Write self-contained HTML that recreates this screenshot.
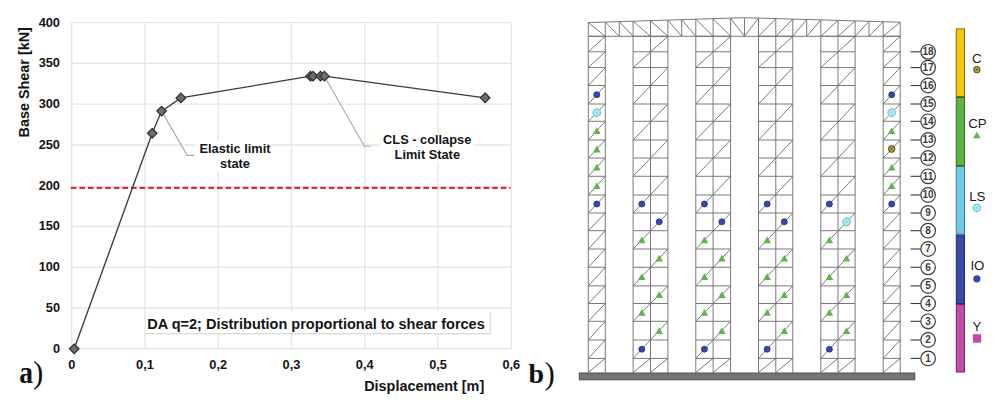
<!DOCTYPE html>
<html><head><meta charset="utf-8"><style>
html,body{margin:0;padding:0;background:#fff;width:1000px;height:410px;overflow:hidden}
svg{display:block}
text{font-family:"Liberation Sans",sans-serif;fill:#141414}
.tk{font-size:12.8px;font-weight:bold}
.ttl{font-size:14.4px;font-weight:bold}
.ann{font-size:12.8px;font-weight:bold}
.box{font-size:14.5px;font-weight:bold}
.lab{font-family:"Liberation Serif",serif;font-size:28px;fill:#111}
.num{font-size:10px;font-weight:bold;fill:#3a3a3a}
.leg{font-size:13.3px;fill:#1a1a1a}
</style></head><body>
<svg width="1000" height="410" viewBox="0 0 1000 410">
<line x1="71.70" y1="22.60" x2="71.70" y2="348.80" stroke="#e6e6e6" stroke-width="1.4"/>
<line x1="144.97" y1="22.60" x2="144.97" y2="348.80" stroke="#e6e6e6" stroke-width="1.4"/>
<line x1="218.23" y1="22.60" x2="218.23" y2="348.80" stroke="#e6e6e6" stroke-width="1.4"/>
<line x1="291.50" y1="22.60" x2="291.50" y2="348.80" stroke="#e6e6e6" stroke-width="1.4"/>
<line x1="364.77" y1="22.60" x2="364.77" y2="348.80" stroke="#e6e6e6" stroke-width="1.4"/>
<line x1="438.03" y1="22.60" x2="438.03" y2="348.80" stroke="#e6e6e6" stroke-width="1.4"/>
<line x1="511.30" y1="22.60" x2="511.30" y2="348.80" stroke="#e6e6e6" stroke-width="1.4"/>
<line x1="71.70" y1="348.80" x2="511.30" y2="348.80" stroke="#e6e6e6" stroke-width="1.4"/>
<line x1="71.70" y1="308.03" x2="511.30" y2="308.03" stroke="#e6e6e6" stroke-width="1.4"/>
<line x1="71.70" y1="267.25" x2="511.30" y2="267.25" stroke="#e6e6e6" stroke-width="1.4"/>
<line x1="71.70" y1="226.48" x2="511.30" y2="226.48" stroke="#e6e6e6" stroke-width="1.4"/>
<line x1="71.70" y1="187.30" x2="511.30" y2="187.30" stroke="#e6e6e6" stroke-width="1.4"/>
<line x1="71.70" y1="144.93" x2="511.30" y2="144.93" stroke="#e6e6e6" stroke-width="1.4"/>
<line x1="71.70" y1="104.15" x2="511.30" y2="104.15" stroke="#e6e6e6" stroke-width="1.4"/>
<line x1="71.70" y1="63.38" x2="511.30" y2="63.38" stroke="#e6e6e6" stroke-width="1.4"/>
<line x1="71.70" y1="22.60" x2="511.30" y2="22.60" stroke="#e6e6e6" stroke-width="1.4"/>
<text x="60" y="352.80" text-anchor="end" class="tk">0</text>
<text x="60" y="312.03" text-anchor="end" class="tk">50</text>
<text x="60" y="271.25" text-anchor="end" class="tk">100</text>
<text x="60" y="230.48" text-anchor="end" class="tk">150</text>
<text x="60" y="189.70" text-anchor="end" class="tk">200</text>
<text x="60" y="148.93" text-anchor="end" class="tk">250</text>
<text x="60" y="108.15" text-anchor="end" class="tk">300</text>
<text x="60" y="67.38" text-anchor="end" class="tk">350</text>
<text x="60" y="26.60" text-anchor="end" class="tk">400</text>
<text x="71.70" y="368.8" text-anchor="middle" class="tk">0</text>
<text x="144.97" y="368.8" text-anchor="middle" class="tk">0,1</text>
<text x="218.23" y="368.8" text-anchor="middle" class="tk">0,2</text>
<text x="291.50" y="368.8" text-anchor="middle" class="tk">0,3</text>
<text x="364.77" y="368.8" text-anchor="middle" class="tk">0,4</text>
<text x="438.03" y="368.8" text-anchor="middle" class="tk">0,5</text>
<text x="511.30" y="368.8" text-anchor="middle" class="tk">0,6</text>
<text x="424.2" y="391" text-anchor="middle" class="ttl">Displacement [m]</text>
<text transform="translate(28.8,82.3) rotate(-90)" x="0" y="0" text-anchor="middle" class="ttl">Base Shear [kN]</text>
<line x1="70.8" y1="187.9" x2="510.6" y2="187.9" stroke="#de2a33" stroke-width="2.3" stroke-dasharray="5.6 3"/>
<polyline points="161.6,111.1 187.2,155.4 194,155.4" fill="none" stroke="#a8a8a8" stroke-width="1.1"/>
<polyline points="324.4,76.2 364.4,146.3 371.1,146.3" fill="none" stroke="#a8a8a8" stroke-width="1.1"/>
<polyline points="74.2,348.8 152.2,133.3 161.6,111.1 180.9,97.9 310.5,76.2 313,76.2 320.5,76.2 324.4,76.2 485.1,97.8" fill="none" stroke="#3a3a3a" stroke-width="1.35"/>
<path d="M74.20 344.00 L79.00 348.80 L74.20 353.60 L69.40 348.80 Z" fill="#6c6c6c" stroke="#2c2c2c" stroke-width="1.2"/>
<path d="M152.20 128.50 L157.00 133.30 L152.20 138.10 L147.40 133.30 Z" fill="#6c6c6c" stroke="#2c2c2c" stroke-width="1.2"/>
<path d="M161.60 106.30 L166.40 111.10 L161.60 115.90 L156.80 111.10 Z" fill="#6c6c6c" stroke="#2c2c2c" stroke-width="1.2"/>
<path d="M180.90 93.10 L185.70 97.90 L180.90 102.70 L176.10 97.90 Z" fill="#6c6c6c" stroke="#2c2c2c" stroke-width="1.2"/>
<path d="M310.50 71.40 L315.30 76.20 L310.50 81.00 L305.70 76.20 Z" fill="#6c6c6c" stroke="#2c2c2c" stroke-width="1.2"/>
<path d="M313.00 71.40 L317.80 76.20 L313.00 81.00 L308.20 76.20 Z" fill="#6c6c6c" stroke="#2c2c2c" stroke-width="1.2"/>
<path d="M320.50 71.40 L325.30 76.20 L320.50 81.00 L315.70 76.20 Z" fill="#6c6c6c" stroke="#2c2c2c" stroke-width="1.2"/>
<path d="M324.40 71.40 L329.20 76.20 L324.40 81.00 L319.60 76.20 Z" fill="#6c6c6c" stroke="#2c2c2c" stroke-width="1.2"/>
<path d="M485.10 93.00 L489.90 97.80 L485.10 102.60 L480.30 97.80 Z" fill="#6c6c6c" stroke="#2c2c2c" stroke-width="1.2"/>
<rect x="195.5" y="140.8" width="75.5" height="30.5" fill="#fff"/>
<rect x="379.5" y="132.6" width="93.5" height="28.6" fill="#fff"/>
<text x="235" y="152.8" text-anchor="middle" class="ann">Elastic limit</text>
<text x="235" y="167.9" text-anchor="middle" class="ann">state</text>
<text x="427.2" y="144.1" text-anchor="middle" class="ann">CLS - collapse</text>
<text x="427.3" y="158.8" text-anchor="middle" class="ann">Limit State</text>
<rect x="146" y="312" width="344.8" height="22.3" fill="#d6d6d6"/>
<rect x="146" y="311.5" width="343.6" height="21.6" fill="#ffffff"/>
<text x="147.3" y="329" class="box">DA q=2; Distribution proportional to shear forces</text>
<text transform="translate(19.2,382.8) scale(0.86,1)" class="lab" style="font-size:32px" font-weight="bold">a</text>
<text x="33.1" y="383.2" class="lab" style="font-size:31px">)</text>
<text x="528.6" y="383" class="lab" font-weight="bold">b</text>
<text x="544.6" y="383.6" class="lab" style="font-size:31px">)</text>
<path d="M588.30 372.50L588.30 36.30M605.30 372.50L605.30 36.30M588.30 358.40L605.30 358.40M588.30 340.00L605.30 340.00M588.30 321.30L605.30 321.30M588.30 303.50L605.30 303.50M588.30 285.90L605.30 285.90M588.30 267.30L605.30 267.30M588.30 249.00L605.30 249.00M588.30 230.70L605.30 230.70M588.30 213.00L605.30 213.00M588.30 195.00L605.30 195.00M588.30 176.30L605.30 176.30M588.30 158.00L605.30 158.00M588.30 140.00L605.30 140.00M588.30 121.30L605.30 121.30M588.30 104.00L605.30 104.00M588.30 85.50L605.30 85.50M588.30 67.60L605.30 67.60M588.30 51.80L605.30 51.80M588.30 36.30L605.30 36.30M588.30 372.50L605.30 358.40M588.30 358.40L605.30 340.00M588.30 340.00L605.30 321.30M588.30 321.30L605.30 303.50M588.30 303.50L605.30 285.90M588.30 285.90L605.30 267.30M588.30 267.30L605.30 249.00M588.30 249.00L605.30 230.70M588.30 230.70L605.30 213.00M588.30 213.00L605.30 195.00M588.30 195.00L605.30 176.30M588.30 176.30L605.30 158.00M588.30 158.00L605.30 140.00M588.30 140.00L605.30 121.30M588.30 121.30L605.30 104.00M588.30 104.00L605.30 85.50M588.30 85.50L605.30 67.60M588.30 67.60L605.30 51.80M588.30 51.80L605.30 36.30M633.10 372.50L633.10 36.30M650.50 372.50L650.50 36.30M667.90 372.50L667.90 36.30M633.10 358.40L667.90 358.40M633.10 340.00L667.90 340.00M633.10 321.30L667.90 321.30M633.10 303.50L667.90 303.50M633.10 285.90L667.90 285.90M633.10 267.30L667.90 267.30M633.10 249.00L667.90 249.00M633.10 230.70L667.90 230.70M633.10 213.00L667.90 213.00M633.10 195.00L667.90 195.00M633.10 176.30L667.90 176.30M633.10 158.00L667.90 158.00M633.10 140.00L667.90 140.00M633.10 121.30L667.90 121.30M633.10 104.00L667.90 104.00M633.10 85.50L667.90 85.50M633.10 67.60L667.90 67.60M633.10 51.80L667.90 51.80M633.10 36.30L667.90 36.30M633.10 372.50L650.50 358.40M650.50 372.50L667.90 358.40M633.10 358.40L667.90 321.30M633.10 321.30L667.90 285.90M633.10 285.90L667.90 249.00M633.10 249.00L667.90 213.00M633.10 213.00L667.90 176.30M633.10 176.30L667.90 140.00M633.10 140.00L667.90 104.00M633.10 104.00L667.90 67.60M633.10 67.60L667.90 36.30M695.80 372.50L695.80 36.30M713.10 372.50L713.10 36.30M730.60 372.50L730.60 36.30M695.80 358.40L730.60 358.40M695.80 340.00L730.60 340.00M695.80 321.30L730.60 321.30M695.80 303.50L730.60 303.50M695.80 285.90L730.60 285.90M695.80 267.30L730.60 267.30M695.80 249.00L730.60 249.00M695.80 230.70L730.60 230.70M695.80 213.00L730.60 213.00M695.80 195.00L730.60 195.00M695.80 176.30L730.60 176.30M695.80 158.00L730.60 158.00M695.80 140.00L730.60 140.00M695.80 121.30L730.60 121.30M695.80 104.00L730.60 104.00M695.80 85.50L730.60 85.50M695.80 67.60L730.60 67.60M695.80 51.80L730.60 51.80M695.80 36.30L730.60 36.30M695.80 372.50L713.10 358.40M713.10 372.50L730.60 358.40M695.80 358.40L730.60 321.30M695.80 321.30L730.60 285.90M695.80 285.90L730.60 249.00M695.80 249.00L730.60 213.00M695.80 213.00L730.60 176.30M695.80 176.30L730.60 140.00M695.80 140.00L730.60 104.00M695.80 104.00L730.60 67.60M695.80 67.60L730.60 36.30M758.50 372.50L758.50 36.30M775.80 372.50L775.80 36.30M792.80 372.50L792.80 36.30M758.50 358.40L792.80 358.40M758.50 340.00L792.80 340.00M758.50 321.30L792.80 321.30M758.50 303.50L792.80 303.50M758.50 285.90L792.80 285.90M758.50 267.30L792.80 267.30M758.50 249.00L792.80 249.00M758.50 230.70L792.80 230.70M758.50 213.00L792.80 213.00M758.50 195.00L792.80 195.00M758.50 176.30L792.80 176.30M758.50 158.00L792.80 158.00M758.50 140.00L792.80 140.00M758.50 121.30L792.80 121.30M758.50 104.00L792.80 104.00M758.50 85.50L792.80 85.50M758.50 67.60L792.80 67.60M758.50 51.80L792.80 51.80M758.50 36.30L792.80 36.30M758.50 372.50L775.80 358.40M775.80 372.50L792.80 358.40M758.50 358.40L792.80 321.30M758.50 321.30L792.80 285.90M758.50 285.90L792.80 249.00M758.50 249.00L792.80 213.00M758.50 213.00L792.80 176.30M758.50 176.30L792.80 140.00M758.50 140.00L792.80 104.00M758.50 104.00L792.80 67.60M758.50 67.60L792.80 36.30M820.80 372.50L820.80 36.30M838.00 372.50L838.00 36.30M855.10 372.50L855.10 36.30M820.80 358.40L855.10 358.40M820.80 340.00L855.10 340.00M820.80 321.30L855.10 321.30M820.80 303.50L855.10 303.50M820.80 285.90L855.10 285.90M820.80 267.30L855.10 267.30M820.80 249.00L855.10 249.00M820.80 230.70L855.10 230.70M820.80 213.00L855.10 213.00M820.80 195.00L855.10 195.00M820.80 176.30L855.10 176.30M820.80 158.00L855.10 158.00M820.80 140.00L855.10 140.00M820.80 121.30L855.10 121.30M820.80 104.00L855.10 104.00M820.80 85.50L855.10 85.50M820.80 67.60L855.10 67.60M820.80 51.80L855.10 51.80M820.80 36.30L855.10 36.30M820.80 372.50L838.00 358.40M838.00 372.50L855.10 358.40M820.80 358.40L855.10 321.30M820.80 321.30L855.10 285.90M820.80 285.90L855.10 249.00M820.80 249.00L855.10 213.00M820.80 213.00L855.10 176.30M820.80 176.30L855.10 140.00M820.80 140.00L855.10 104.00M820.80 104.00L855.10 67.60M820.80 67.60L855.10 36.30M883.20 372.50L883.20 36.30M900.20 372.50L900.20 36.30M883.20 358.40L900.20 358.40M883.20 340.00L900.20 340.00M883.20 321.30L900.20 321.30M883.20 303.50L900.20 303.50M883.20 285.90L900.20 285.90M883.20 267.30L900.20 267.30M883.20 249.00L900.20 249.00M883.20 230.70L900.20 230.70M883.20 213.00L900.20 213.00M883.20 195.00L900.20 195.00M883.20 176.30L900.20 176.30M883.20 158.00L900.20 158.00M883.20 140.00L900.20 140.00M883.20 121.30L900.20 121.30M883.20 104.00L900.20 104.00M883.20 85.50L900.20 85.50M883.20 67.60L900.20 67.60M883.20 51.80L900.20 51.80M883.20 36.30L900.20 36.30M883.20 372.50L900.20 358.40M883.20 358.40L900.20 340.00M883.20 340.00L900.20 321.30M883.20 321.30L900.20 303.50M883.20 303.50L900.20 285.90M883.20 285.90L900.20 267.30M883.20 267.30L900.20 249.00M883.20 249.00L900.20 230.70M883.20 230.70L900.20 213.00M883.20 213.00L900.20 195.00M883.20 195.00L900.20 176.30M883.20 176.30L900.20 158.00M883.20 158.00L900.20 140.00M883.20 140.00L900.20 121.30M883.20 121.30L900.20 104.00M883.20 104.00L900.20 85.50M883.20 85.50L900.20 67.60M883.20 67.60L900.20 51.80M883.20 51.80L900.20 36.30M588.30 22.60L744.50 17.70M744.50 17.70L900.20 22.20M588.30 36.30L900.20 36.30M588.30 22.60L588.30 36.30M605.30 22.07L605.30 36.30M619.30 21.63L619.30 36.30M633.10 21.19L633.10 36.30M650.50 20.65L650.50 36.30M667.90 20.10L667.90 36.30M681.70 19.67L681.70 36.30M695.80 19.23L695.80 36.30M713.10 18.69L713.10 36.30M730.60 18.14L730.60 36.30M744.50 17.70L744.50 36.30M758.50 18.10L758.50 36.30M775.80 18.60L775.80 36.30M792.80 19.10L792.80 36.30M806.70 19.50L806.70 36.30M820.80 19.91L820.80 36.30M838.00 20.40L838.00 36.30M855.10 20.90L855.10 36.30M869.00 21.30L869.00 36.30M883.20 21.71L883.20 36.30M900.20 22.20L900.20 36.30M588.30 22.60L605.30 36.30M605.30 22.07L619.30 36.30M619.30 21.63L633.10 36.30M633.10 21.19L650.50 36.30M650.50 20.65L667.90 36.30M667.90 20.10L681.70 36.30M681.70 19.67L695.80 36.30M695.80 19.23L713.10 36.30M713.10 18.69L730.60 36.30M730.60 18.14L744.50 36.30M744.50 36.30L758.50 18.10M758.50 36.30L775.80 18.60M775.80 36.30L792.80 19.10M792.80 36.30L806.70 19.50M806.70 36.30L820.80 19.91M820.80 36.30L838.00 20.40M838.00 36.30L855.10 20.90M855.10 36.30L869.00 21.30M869.00 36.30L883.20 21.71M883.20 36.30L900.20 22.20" fill="none" stroke="#727272" stroke-width="0.95"/>
<rect x="579.3" y="373" width="335.5" height="6.8" fill="#747478" stroke="#505054" stroke-width="1"/>
<circle cx="596.80" cy="94.75" r="3.0" fill="#3648ae" stroke="#22307f" stroke-width="0.8"/>
<path d="M596.80 107.35L602.10 112.65L596.80 117.95L591.50 112.65Z" fill="#c6eef3"/>
<circle cx="596.80" cy="112.65" r="3.7" fill="#b5e6ee" stroke="#74cddc" stroke-width="1.2"/>
<circle cx="596.80" cy="112.65" r="1.2" fill="#8fd8e4"/>
<path d="M596.80 127.25L600.60 134.05L593.00 134.05Z" fill="#5cb648"/>
<path d="M596.80 145.60L600.60 152.40L593.00 152.40Z" fill="#5cb648"/>
<path d="M596.80 163.75L600.60 170.55L593.00 170.55Z" fill="#5cb648"/>
<path d="M596.80 182.25L600.60 189.05L593.00 189.05Z" fill="#5cb648"/>
<circle cx="596.80" cy="204.00" r="3.0" fill="#3648ae" stroke="#22307f" stroke-width="0.8"/>
<circle cx="891.70" cy="94.75" r="3.0" fill="#3648ae" stroke="#22307f" stroke-width="0.8"/>
<path d="M891.70 107.35L897.00 112.65L891.70 117.95L886.40 112.65Z" fill="#c6eef3"/>
<circle cx="891.70" cy="112.65" r="3.7" fill="#b5e6ee" stroke="#74cddc" stroke-width="1.2"/>
<circle cx="891.70" cy="112.65" r="1.2" fill="#8fd8e4"/>
<path d="M891.70 127.25L895.50 134.05L887.90 134.05Z" fill="#5cb648"/>
<circle cx="891.70" cy="149.00" r="3.1" fill="#c4b446" stroke="#5e5520" stroke-width="1.1"/>
<path d="M890.20 147.50L893.20 150.50M890.20 150.50L893.20 147.50" stroke="#4a4418" stroke-width="0.8"/>
<path d="M891.70 163.75L895.50 170.55L887.90 170.55Z" fill="#5cb648"/>
<path d="M891.70 182.25L895.50 189.05L887.90 189.05Z" fill="#5cb648"/>
<circle cx="891.70" cy="204.00" r="3.0" fill="#3648ae" stroke="#22307f" stroke-width="0.8"/>
<circle cx="641.80" cy="204.00" r="3.0" fill="#3648ae" stroke="#22307f" stroke-width="0.8"/>
<circle cx="659.20" cy="221.85" r="3.0" fill="#3648ae" stroke="#22307f" stroke-width="0.8"/>
<path d="M641.80 236.45L645.60 243.25L638.00 243.25Z" fill="#5cb648"/>
<path d="M659.20 254.75L663.00 261.55L655.40 261.55Z" fill="#5cb648"/>
<path d="M641.80 273.20L645.60 280.00L638.00 280.00Z" fill="#5cb648"/>
<path d="M659.20 291.30L663.00 298.10L655.40 298.10Z" fill="#5cb648"/>
<path d="M641.80 309.00L645.60 315.80L638.00 315.80Z" fill="#5cb648"/>
<path d="M659.20 327.25L663.00 334.05L655.40 334.05Z" fill="#5cb648"/>
<circle cx="641.80" cy="349.20" r="3.0" fill="#3648ae" stroke="#22307f" stroke-width="0.8"/>
<circle cx="704.45" cy="204.00" r="3.0" fill="#3648ae" stroke="#22307f" stroke-width="0.8"/>
<circle cx="721.85" cy="221.85" r="3.0" fill="#3648ae" stroke="#22307f" stroke-width="0.8"/>
<path d="M704.45 236.45L708.25 243.25L700.65 243.25Z" fill="#5cb648"/>
<path d="M721.85 254.75L725.65 261.55L718.05 261.55Z" fill="#5cb648"/>
<path d="M704.45 273.20L708.25 280.00L700.65 280.00Z" fill="#5cb648"/>
<path d="M721.85 291.30L725.65 298.10L718.05 298.10Z" fill="#5cb648"/>
<path d="M704.45 309.00L708.25 315.80L700.65 315.80Z" fill="#5cb648"/>
<path d="M721.85 327.25L725.65 334.05L718.05 334.05Z" fill="#5cb648"/>
<circle cx="704.45" cy="349.20" r="3.0" fill="#3648ae" stroke="#22307f" stroke-width="0.8"/>
<circle cx="767.15" cy="204.00" r="3.0" fill="#3648ae" stroke="#22307f" stroke-width="0.8"/>
<circle cx="784.30" cy="221.85" r="3.0" fill="#3648ae" stroke="#22307f" stroke-width="0.8"/>
<path d="M767.15 236.45L770.95 243.25L763.35 243.25Z" fill="#5cb648"/>
<path d="M784.30 254.75L788.10 261.55L780.50 261.55Z" fill="#5cb648"/>
<path d="M767.15 273.20L770.95 280.00L763.35 280.00Z" fill="#5cb648"/>
<path d="M784.30 291.30L788.10 298.10L780.50 298.10Z" fill="#5cb648"/>
<path d="M767.15 309.00L770.95 315.80L763.35 315.80Z" fill="#5cb648"/>
<path d="M784.30 327.25L788.10 334.05L780.50 334.05Z" fill="#5cb648"/>
<circle cx="767.15" cy="349.20" r="3.0" fill="#3648ae" stroke="#22307f" stroke-width="0.8"/>
<circle cx="829.40" cy="204.00" r="3.0" fill="#3648ae" stroke="#22307f" stroke-width="0.8"/>
<path d="M846.55 216.55L851.85 221.85L846.55 227.15L841.25 221.85Z" fill="#c6eef3"/>
<circle cx="846.55" cy="221.85" r="3.7" fill="#b5e6ee" stroke="#74cddc" stroke-width="1.2"/>
<circle cx="846.55" cy="221.85" r="1.2" fill="#8fd8e4"/>
<path d="M829.40 236.45L833.20 243.25L825.60 243.25Z" fill="#5cb648"/>
<path d="M846.55 254.75L850.35 261.55L842.75 261.55Z" fill="#5cb648"/>
<path d="M829.40 273.20L833.20 280.00L825.60 280.00Z" fill="#5cb648"/>
<path d="M846.55 291.30L850.35 298.10L842.75 298.10Z" fill="#5cb648"/>
<path d="M829.40 309.00L833.20 315.80L825.60 315.80Z" fill="#5cb648"/>
<path d="M846.55 327.25L850.35 334.05L842.75 334.05Z" fill="#5cb648"/>
<circle cx="829.40" cy="349.20" r="3.0" fill="#3648ae" stroke="#22307f" stroke-width="0.8"/>
<line x1="910.6" y1="358.40" x2="920.6" y2="358.40" stroke="#3a3a3a" stroke-width="1.1"/>
<circle cx="928.1" cy="358.40" r="7.3" fill="#fff" stroke="#3a3a3a" stroke-width="1.2"/>
<text x="928.1" y="361.70" text-anchor="middle" class="num">1</text>
<line x1="910.6" y1="340.00" x2="920.6" y2="340.00" stroke="#3a3a3a" stroke-width="1.1"/>
<circle cx="928.1" cy="340.00" r="7.3" fill="#fff" stroke="#3a3a3a" stroke-width="1.2"/>
<text x="928.1" y="343.30" text-anchor="middle" class="num">2</text>
<line x1="910.6" y1="321.30" x2="920.6" y2="321.30" stroke="#3a3a3a" stroke-width="1.1"/>
<circle cx="928.1" cy="321.30" r="7.3" fill="#fff" stroke="#3a3a3a" stroke-width="1.2"/>
<text x="928.1" y="324.60" text-anchor="middle" class="num">3</text>
<line x1="910.6" y1="303.50" x2="920.6" y2="303.50" stroke="#3a3a3a" stroke-width="1.1"/>
<circle cx="928.1" cy="303.50" r="7.3" fill="#fff" stroke="#3a3a3a" stroke-width="1.2"/>
<text x="928.1" y="306.80" text-anchor="middle" class="num">4</text>
<line x1="910.6" y1="285.90" x2="920.6" y2="285.90" stroke="#3a3a3a" stroke-width="1.1"/>
<circle cx="928.1" cy="285.90" r="7.3" fill="#fff" stroke="#3a3a3a" stroke-width="1.2"/>
<text x="928.1" y="289.20" text-anchor="middle" class="num">5</text>
<line x1="910.6" y1="267.30" x2="920.6" y2="267.30" stroke="#3a3a3a" stroke-width="1.1"/>
<circle cx="928.1" cy="267.30" r="7.3" fill="#fff" stroke="#3a3a3a" stroke-width="1.2"/>
<text x="928.1" y="270.60" text-anchor="middle" class="num">6</text>
<line x1="910.6" y1="249.00" x2="920.6" y2="249.00" stroke="#3a3a3a" stroke-width="1.1"/>
<circle cx="928.1" cy="249.00" r="7.3" fill="#fff" stroke="#3a3a3a" stroke-width="1.2"/>
<text x="928.1" y="252.30" text-anchor="middle" class="num">7</text>
<line x1="910.6" y1="230.70" x2="920.6" y2="230.70" stroke="#3a3a3a" stroke-width="1.1"/>
<circle cx="928.1" cy="230.70" r="7.3" fill="#fff" stroke="#3a3a3a" stroke-width="1.2"/>
<text x="928.1" y="234.00" text-anchor="middle" class="num">8</text>
<line x1="910.6" y1="213.00" x2="920.6" y2="213.00" stroke="#3a3a3a" stroke-width="1.1"/>
<circle cx="928.1" cy="213.00" r="7.3" fill="#fff" stroke="#3a3a3a" stroke-width="1.2"/>
<text x="928.1" y="216.30" text-anchor="middle" class="num">9</text>
<line x1="910.6" y1="195.00" x2="920.6" y2="195.00" stroke="#3a3a3a" stroke-width="1.1"/>
<circle cx="928.1" cy="195.00" r="7.3" fill="#fff" stroke="#3a3a3a" stroke-width="1.2"/>
<text x="928.1" y="198.30" text-anchor="middle" class="num">10</text>
<line x1="910.6" y1="176.30" x2="920.6" y2="176.30" stroke="#3a3a3a" stroke-width="1.1"/>
<circle cx="928.1" cy="176.30" r="7.3" fill="#fff" stroke="#3a3a3a" stroke-width="1.2"/>
<text x="928.1" y="179.60" text-anchor="middle" class="num">11</text>
<line x1="910.6" y1="158.00" x2="920.6" y2="158.00" stroke="#3a3a3a" stroke-width="1.1"/>
<circle cx="928.1" cy="158.00" r="7.3" fill="#fff" stroke="#3a3a3a" stroke-width="1.2"/>
<text x="928.1" y="161.30" text-anchor="middle" class="num">12</text>
<line x1="910.6" y1="140.00" x2="920.6" y2="140.00" stroke="#3a3a3a" stroke-width="1.1"/>
<circle cx="928.1" cy="140.00" r="7.3" fill="#fff" stroke="#3a3a3a" stroke-width="1.2"/>
<text x="928.1" y="143.30" text-anchor="middle" class="num">13</text>
<line x1="910.6" y1="121.30" x2="920.6" y2="121.30" stroke="#3a3a3a" stroke-width="1.1"/>
<circle cx="928.1" cy="121.30" r="7.3" fill="#fff" stroke="#3a3a3a" stroke-width="1.2"/>
<text x="928.1" y="124.60" text-anchor="middle" class="num">14</text>
<line x1="910.6" y1="104.00" x2="920.6" y2="104.00" stroke="#3a3a3a" stroke-width="1.1"/>
<circle cx="928.1" cy="104.00" r="7.3" fill="#fff" stroke="#3a3a3a" stroke-width="1.2"/>
<text x="928.1" y="107.30" text-anchor="middle" class="num">15</text>
<line x1="910.6" y1="85.50" x2="920.6" y2="85.50" stroke="#3a3a3a" stroke-width="1.1"/>
<circle cx="928.1" cy="85.50" r="7.3" fill="#fff" stroke="#3a3a3a" stroke-width="1.2"/>
<text x="928.1" y="88.80" text-anchor="middle" class="num">16</text>
<line x1="910.6" y1="67.60" x2="920.6" y2="67.60" stroke="#3a3a3a" stroke-width="1.1"/>
<circle cx="928.1" cy="67.60" r="7.3" fill="#fff" stroke="#3a3a3a" stroke-width="1.2"/>
<text x="928.1" y="70.90" text-anchor="middle" class="num">17</text>
<line x1="910.6" y1="51.80" x2="920.6" y2="51.80" stroke="#3a3a3a" stroke-width="1.1"/>
<circle cx="928.1" cy="51.80" r="7.3" fill="#fff" stroke="#3a3a3a" stroke-width="1.2"/>
<text x="928.1" y="55.10" text-anchor="middle" class="num">18</text>
<rect x="956.30" y="28.90" width="8.20" height="67.60" fill="#f7c70c" stroke="#7a6a1c" stroke-width="1"/>
<rect x="956.30" y="97.50" width="8.20" height="68.00" fill="#5cb443" stroke="#2f6a22" stroke-width="1"/>
<rect x="956.30" y="166.50" width="8.20" height="67.70" fill="#6ecbe2" stroke="#35789a" stroke-width="1"/>
<rect x="956.30" y="235.20" width="8.20" height="68.30" fill="#3749ac" stroke="#1e2868" stroke-width="1"/>
<rect x="956.30" y="304.50" width="8.20" height="67.50" fill="#c24aa8" stroke="#6a2a5c" stroke-width="1"/>
<text x="976.9" y="63.3" text-anchor="middle" class="leg">C</text>
<circle cx="976.90" cy="69.60" r="3.1" fill="#c4b446" stroke="#5e5520" stroke-width="1.1"/>
<path d="M975.40 68.10L978.40 71.10M975.40 71.10L978.40 68.10" stroke="#4a4418" stroke-width="0.8"/>
<text x="977.4" y="127.6" text-anchor="middle" class="leg">CP</text>
<path d="M976.8 131.8L980.6 138.3L973 138.3Z" fill="#5cb648"/>
<text x="977.3" y="201.1" text-anchor="middle" class="leg">LS</text>
<path d="M976.90 202.40L982.20 207.70L976.90 213.00L971.60 207.70Z" fill="#c6eef3"/>
<circle cx="976.90" cy="207.70" r="3.7" fill="#b5e6ee" stroke="#74cddc" stroke-width="1.2"/>
<circle cx="976.90" cy="207.70" r="1.2" fill="#8fd8e4"/>
<text x="977.4" y="270" text-anchor="middle" class="leg">IO</text>
<circle cx="976.9" cy="278.8" r="3.6" fill="#3446a6"/>
<text x="976.9" y="331.2" text-anchor="middle" class="leg">Y</text>
<rect x="973" y="334.2" width="8.2" height="8.5" fill="#c24aa6"/>
</svg>
</body></html>
